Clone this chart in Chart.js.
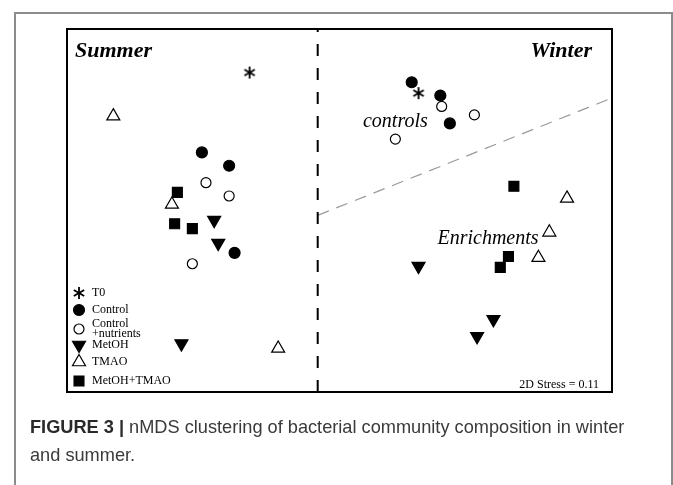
<!DOCTYPE html>
<html>
<head>
<meta charset="utf-8">
<script src="https://cdn.jsdelivr.net/npm/chart.js@4"></script>
<style>
  body { margin: 0; background: #fff; }
  #wrap { position: relative; width: 673px; height: 485px; overflow: hidden; }
  #frame { position: absolute; left: 14px; top: 12px; width: 655px; height: 500px; border: 2px solid #8c8c8c; }
  #myChart { position: absolute; left: 0; top: 0; }
  #caption { position: absolute; left: 30px; top: 413px; width: 630px; font-family: "Liberation Sans", Arial, sans-serif;
             font-size: 18.2px; line-height: 28px; color: #3a3a3a; white-space: nowrap; }
  #caption b { color: #2a2a2a; }
</style>
</head>
<body>
<div id="wrap">
  <div id="frame"></div>
  <canvas id="myChart" width="673" height="485"></canvas>
  <div id="caption"><b>FIGURE 3 |</b> nMDS clustering of bacterial community composition in winter<br>and summer.</div>
</div>
<script>
// nMDS coordinates (first 3 = summer, last 3 = winter)
var t0X = [-0.66, 0.58];
var t0Y = [1.14, 0.97];
var controlX = [-1.01, -0.81, -0.77, 0.53, 0.74, 0.81];
var controlY = [0.48, 0.37, -0.35, 1.06, 0.95, 0.72];
var nutrientsX = [-0.98, -0.81, -1.08, 0.75, 0.99, 0.41];
var nutrientsY = [0.23, 0.12, -0.44, 0.86, 0.79, 0.59];
var metohX = [-0.92, -0.89, -1.16, 0.58, 1.13, 1.01];
var metohY = [-0.08, -0.27, -1.10, -0.46, -0.90, -1.04];
var tmaoX = [-1.66, -1.23, -0.45, 1.67, 1.54, 1.46];
var tmaoY = [0.78, 0.05, -1.14, 0.10, -0.18, -0.39];
var mixX = [-1.19, -1.21, -1.08, 1.28, 1.24, 1.18];
var mixY = [0.15, -0.11, -0.15, 0.20, -0.38, -0.47];

var seasonSplit = -0.16;
var groupLineX = [-0.16, 2.0];
var groupLineY = [-0.04, 0.93];
var stress = 0.11;

function pts(xs, ys) {
  var out = [];
  for (var i = 0; i < xs.length; i++) out.push({x: xs[i], y: ys[i]});
  return out;
}

// six armed asterisk used for T0
var star = document.createElement('canvas');
star.width = 14; star.height = 14;
(function () {
  var c = star.getContext('2d');
  c.strokeStyle = '#000';
  c.lineWidth = 1.8;
  for (var k = 0; k < 3; k++) {
    var a = Math.PI / 2 + k * Math.PI / 3;
    c.beginPath();
    c.moveTo(7 + Math.cos(a) * 6, 7 + Math.sin(a) * 6);
    c.lineTo(7 - Math.cos(a) * 6, 7 - Math.sin(a) * 6);
    c.stroke();
  }
})();

var groups = [
  {label: 'T0', data: pts(t0X, t0Y), pointStyle: star, radius: 7, bg: '#000', rot: 0},
  {label: 'Control', data: pts(controlX, controlY), pointStyle: 'circle', radius: 5.5, bg: '#000', rot: 0},
  {label: 'Control\n+nutrients', data: pts(nutrientsX, nutrientsY), pointStyle: 'circle', radius: 5, bg: '#fff', rot: 0},
  {label: 'MetOH', data: pts(metohX, metohY), pointStyle: 'triangle', radius: 7.5, bg: '#000', rot: 180},
  {label: 'TMAO', data: pts(tmaoX, tmaoY), pointStyle: 'triangle', radius: 7.5, bg: '#fff', rot: 0},
  {label: 'MetOH+TMAO', data: pts(mixX, mixY), pointStyle: 'rect', radius: 7, bg: '#000', rot: 0}
];

var datasets = groups.map(function (g) {
  return {
    label: g.label, data: g.data, pointStyle: g.pointStyle, pointRadius: g.radius,
    pointRotation: g.rot, backgroundColor: g.bg, borderColor: '#000', borderWidth: 1.2,
    showLine: false
  };
});
datasets.push({
  label: 'season', data: [{x: seasonSplit, y: -1.5}, {x: seasonSplit, y: 1.5}],
  showLine: true, borderColor: '#000', borderWidth: 2, borderDash: [12, 12], pointRadius: 0, fill: false
});
datasets.push({
  label: 'split', data: pts(groupLineX, groupLineY),
  showLine: true, borderColor: '#9a9a9a', borderWidth: 1.2, borderDash: [12, 8], pointRadius: 0, fill: false
});

var decorations = {
  id: 'decorations',
  afterDatasetsDraw: function (chart) {
    var ctx = chart.ctx, a = chart.chartArea;
    var xs = chart.scales.x, ys = chart.scales.y;
    ctx.save();
    ctx.strokeStyle = '#000';
    ctx.lineWidth = 2;
    ctx.strokeRect(a.left, a.top, a.right - a.left, a.bottom - a.top);

    ctx.fillStyle = '#000';
    ctx.textBaseline = 'alphabetic';
    ctx.font = 'italic bold 22px "Liberation Serif", "Times New Roman", serif';
    ctx.textAlign = 'left';
    ctx.fillText('Summer', a.left + 8, a.top + 28);
    ctx.textAlign = 'right';
    ctx.fillText('Winter', a.right - 20, a.top + 28);

    ctx.font = 'italic 20px "Liberation Serif", "Times New Roman", serif';
    ctx.textAlign = 'center';
    ctx.fillText('controls', xs.getPixelForValue(0.41), ys.getPixelForValue(0.69));
    ctx.fillText('Enrichments', xs.getPixelForValue(1.09), ys.getPixelForValue(-0.28));

    ctx.font = '12px "Liberation Serif", "Times New Roman", serif';
    ctx.textAlign = 'right';
    ctx.fillText('2D Stress = ' + stress.toFixed(2), a.right - 13, a.bottom - 4);

    // legend in the lower left corner
    var rows = [293, 310, 329, 345, 362, 381];
    ctx.font = '12px "Liberation Serif", "Times New Roman", serif';
    ctx.textAlign = 'left';
    ctx.textBaseline = 'middle';
    groups.forEach(function (g, i) {
      var y = rows[i];
      ctx.fillStyle = g.bg;
      ctx.strokeStyle = '#000';
      ctx.lineWidth = 1.2;
      Chart.helpers.drawPoint(ctx, {pointStyle: g.pointStyle, rotation: g.rot, radius: g.radius, borderWidth: 1.2}, a.left + 12, y);
      ctx.fillStyle = '#000';
      var lines = g.label.split('\n');
      if (lines.length > 1) {
        ctx.fillText(lines[0], a.left + 25, y - 5);
        ctx.fillText(lines[1], a.left + 25, y + 5);
      } else {
        ctx.fillText(lines[0], a.left + 25, y);
      }
    });
    ctx.restore();
  }
};

var ctx = document.getElementById('myChart').getContext('2d');
var chart = new Chart(ctx, {
  type: 'scatter',
  data: { datasets: datasets },
  options: {
    responsive: false,
    animation: false,
    layout: { padding: { left: 67, top: 29, right: 61, bottom: 93 } },
    scales: {
      x: { type: 'linear', min: -2, max: 2, display: false },
      y: { type: 'linear', min: -1.5, max: 1.5, display: false }
    },
    plugins: { legend: { display: false }, tooltip: { enabled: false } }
  },
  plugins: [decorations]
});
</script>
</body>
</html>
